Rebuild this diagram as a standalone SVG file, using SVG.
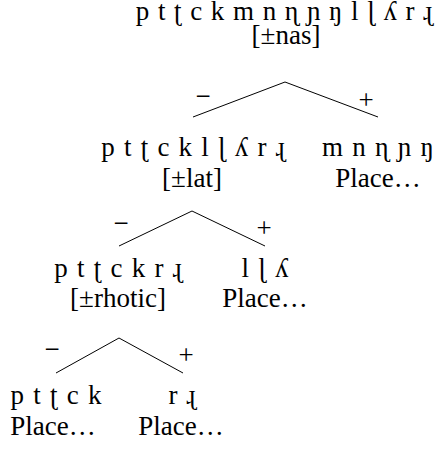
<svg xmlns="http://www.w3.org/2000/svg" width="437" height="451" viewBox="0 0 437 451">
  <style>
    text { font-family: 'Liberation Serif', 'Times New Roman', serif; font-size: 27px; fill: #000000; text-anchor: middle; }
    .seg { word-spacing: 2.5px; }
    .top { word-spacing: 1.9px; }
    .edge { stroke: #000000; stroke-width: 1; fill: none; }
  </style>
  <rect width="437" height="451" fill="#ffffff"/>

  <!-- root: all segments split on nasality -->
  <g id="root">
    <text class="top" x="284" y="20">p t ʈ c k m n ɳ ɲ ŋ l ɭ ʎ r ɻ</text>
    <text x="286" y="44">[±nas]</text>
  </g>

  <g id="oral">
    <text class="seg" x="193" y="156">p t ʈ c k l ɭ ʎ r ɻ</text>
    <text x="192" y="187">[±lat]</text>
  </g>

  <g id="nasal">
    <text class="seg" x="378" y="156">m n ɳ ɲ ŋ</text>
    <text x="378" y="187">Place…</text>
  </g>

  <g id="nonlateral">
    <text class="seg" x="118" y="277">p t ʈ c k r ɻ</text>
    <text x="118" y="307">[±rhotic]</text>
  </g>

  <g id="lateral">
    <text class="seg" x="265" y="277">l ɭ ʎ</text>
    <text x="265" y="307">Place…</text>
  </g>

  <g id="obstruent">
    <text class="seg" x="56" y="404">p t ʈ c k</text>
    <text x="53" y="435">Place…</text>
  </g>

  <g id="rhotic">
    <text class="seg" x="182" y="404">r ɻ</text>
    <text x="181" y="435">Place…</text>
  </g>

  <!-- branches with their feature values -->
  <g id="connectors">
    <polyline class="edge" points="193,117 285,82 378,117"/>
    <text x="203" y="105">−</text>
    <text x="366" y="109">+</text>

    <polyline class="edge" points="119,246 192,211 265,246"/>
    <text x="121" y="232">−</text>
    <text x="264" y="237">+</text>

    <polyline class="edge" points="56,373 119,338 183,373"/>
    <text x="52" y="358">−</text>
    <text x="186" y="364">+</text>
  </g>
</svg>
